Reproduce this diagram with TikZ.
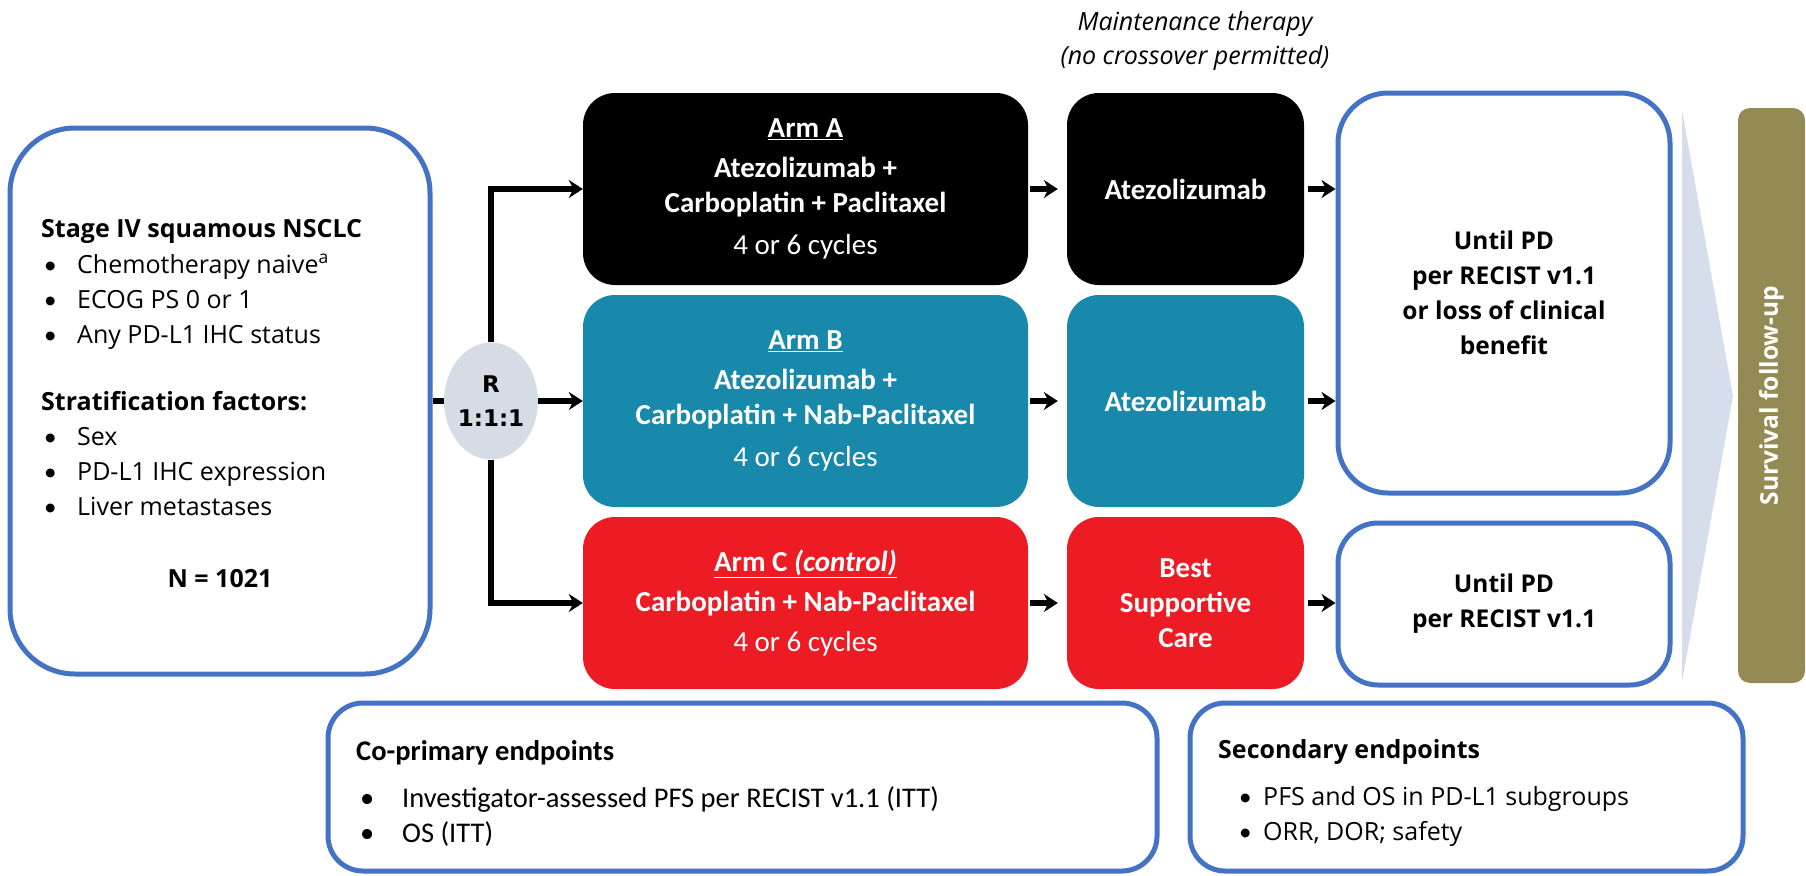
\documentclass[tikz,border=0pt]{standalone}
\usepackage{fontspec}
\setmainfont{Carlito}
\newfontfamily\osans{Open Sans}
\newfontfamily\dvsans{DejaVu Sans}
\usetikzlibrary{arrows.meta,positioning,shapes.geometric}

\definecolor{bluebd}{RGB}{68,114,196}
\definecolor{tealarm}{RGB}{24,137,170}
\definecolor{redarm}{RGB}{237,28,36}
\definecolor{randfill}{RGB}{214,220,229}
\definecolor{chevfill}{RGB}{215,222,235}
\definecolor{olivebar}{RGB}{148,138,84}

\newcommand{\bul}[1]{\makebox[#1][l]{\normalfont\textbullet}}

\begin{document}
\begin{tikzpicture}[x=1pt, y=-1pt, >={Stealth[length=14pt,width=18pt]},
    blubox/.style={draw=bluebd, line width=5pt, fill=white},
    armbox/.style={rounded corners=32pt, text=white, align=center, inner sep=0pt,
        minimum width=445, font=\fontsize{29}{35}\selectfont\bfseries},
    mntbox/.style={armbox, minimum width=237},
    untl/.style={blubox, rounded corners=50pt, align=center, minimum width=332,
        font=\osans\fontsize{24.5}{35}\selectfont\bfseries},
    elig/.style={inner sep=0pt, anchor=base west, font=\osans\fontsize{25}{30}\selectfont},
    endp/.style={inner sep=0pt, anchor=base west, font=\fontsize{28.5}{34}\selectfont},
    conn/.style={line width=5.5pt},
    sarr/.style={line width=6pt, ->}]

\useasboundingbox (0,0) rectangle (1806,875);

% === Maintenance header ===
\node[align=center, font=\osans\itshape\fontsize{25}{34}\selectfont] (mlbl) at (1195,41)
    {Maintenance therapy\\(no crossover permitted)};

% === Eligibility box ===
\node[blubox, rounded corners=65pt, minimum width=420, minimum height=546] (elig) at (220,401) {};
\node[elig, font=\osans\fontsize{25}{30}\selectfont\bfseries] (stage) at (41,237) {Stage IV squamous NSCLC};
\node[elig] (naive) at (44,273) {\bul{33pt}Chemotherapy naive\textsuperscript{a}};
\node[elig] (ecog)  at (44,308) {\bul{33pt}ECOG PS 0 or 1};
\node[elig] (pdl)   at (44,343) {\bul{33pt}Any PD-L1 IHC status};
\node[elig, font=\osans\fontsize{25}{30}\selectfont\bfseries] (strat) at (41,410) {Stratification factors:};
\node[elig] (sex)   at (44,445) {\bul{33pt}Sex};
\node[elig] (expr)  at (44,480) {\bul{33pt}PD-L1 IHC expression};
\node[elig] (liver) at (44,515) {\bul{33pt}Liver metastases};
\node[inner sep=0pt, anchor=base, font=\osans\fontsize{25}{30}\selectfont\bfseries] (ntot) at (220,587) {N = 1021};

% === Randomisation ===
\node[ellipse, fill=randfill, minimum width=93, minimum height=117, inner sep=0pt, align=center,
    font=\dvsans\fontsize{23}{34}\selectfont\bfseries] (ellR) at (491,401) {R\\1:1:1};

% === Arms (induction) ===
\node[armbox, fill=black, minimum height=192] (armA) at (805.5,189)
    {\underline{Arm A}\\[5pt] Atezolizumab +\\ Carboplatin + Paclitaxel\\[7pt] {\mdseries 4 or 6 cycles}};
\node[armbox, fill=tealarm, minimum height=212] (armB) at (805.5,401)
    {\underline{Arm B}\\[5pt] Atezolizumab +\\ Carboplatin + Nab-Paclitaxel\\[7pt] {\mdseries 4 or 6 cycles}};
\node[armbox, fill=redarm, minimum height=172] (armC) at (805.5,603)
    {\underline{Arm C \textit{(control)}}\\[5pt] Carboplatin + Nab-Paclitaxel\\[5pt] {\mdseries 4 or 6 cycles}};

% === Maintenance ===
\node[mntbox, fill=black, minimum height=192] (mntA) at (1185.5,189) {Atezolizumab};
\node[mntbox, fill=tealarm, minimum height=212] (mntB) at (1185.5,401) {Atezolizumab};
\node[mntbox, fill=redarm, minimum height=172] (mntC) at (1185.5,603) {Best\\Supportive\\Care};

% === Treatment duration ===
\node[untl, minimum height=400] (untlAB) at (1504,293) {Until PD\\per RECIST v1.1\\or loss of clinical\\benefit};
\node[untl, rounded corners=40pt, minimum height=162] (untlC) at (1504,604) {Until PD\\per RECIST v1.1};

% === Survival follow-up ===
\fill[chevfill] (1682,110) -- (1733,396) -- (1682,682) -- cycle;
\node[rotate=90, fill=olivebar, rounded corners=12pt, minimum width=575, minimum height=67,
    text=white, font=\osans\fontsize{24.5}{28}\selectfont\bfseries] (surv) at (1771.5,395.5) {Survival follow-up};

% === Edges ===
\draw[conn] (elig) -- (ellR);
\draw[conn, ->] (ellR) -- (armB);
\draw[conn, ->] (ellR) |- (armA);
\draw[conn, ->] (ellR) |- (armC);
% arm -> maintenance
\draw[sarr, shorten <=2pt, shorten >=9pt] (armA) -- (mntA);
\draw[sarr, shorten <=2pt, shorten >=9pt] (armB) -- (mntB);
\draw[sarr, shorten <=2pt, shorten >=9pt] (armC) -- (mntC);
% maintenance -> duration
\draw[sarr, shorten <=4pt] (mntA.east) -- (mntA.east -| untlAB.west);
\draw[sarr, shorten <=4pt] (mntB.east) -- (mntB.east -| untlAB.west);
\draw[sarr, shorten <=4pt] (mntC.east) -- (mntC.east -| untlC.west);

% === Endpoints ===
\node[blubox, rounded corners=35pt, minimum width=829, minimum height=168] (cop) at (742.5,787) {};
\node[endp, font=\fontsize{28.5}{34}\selectfont\bfseries] (coptl) at (356,760) {Co-primary endpoints};
\node[endp] (pfs) at (360,807) {\bul{42pt}Investigator-assessed PFS per RECIST v1.1 (ITT)};
\node[endp] (os)  at (360,842) {\bul{42pt}OS (ITT)};

\node[blubox, rounded corners=35pt, minimum width=553, minimum height=168] (sec) at (1466.5,787) {};
\node[elig, font=\osans\fontsize{25}{30}\selectfont\bfseries] (sectl) at (1218,758) {Secondary endpoints};
\node[elig] (subg) at (1239,805) {\bul{24pt}PFS and OS in PD-L1 subgroups};
\node[elig] (orr)  at (1239,840) {\bul{24pt}ORR, DOR; safety};

\end{tikzpicture}
\end{document}
